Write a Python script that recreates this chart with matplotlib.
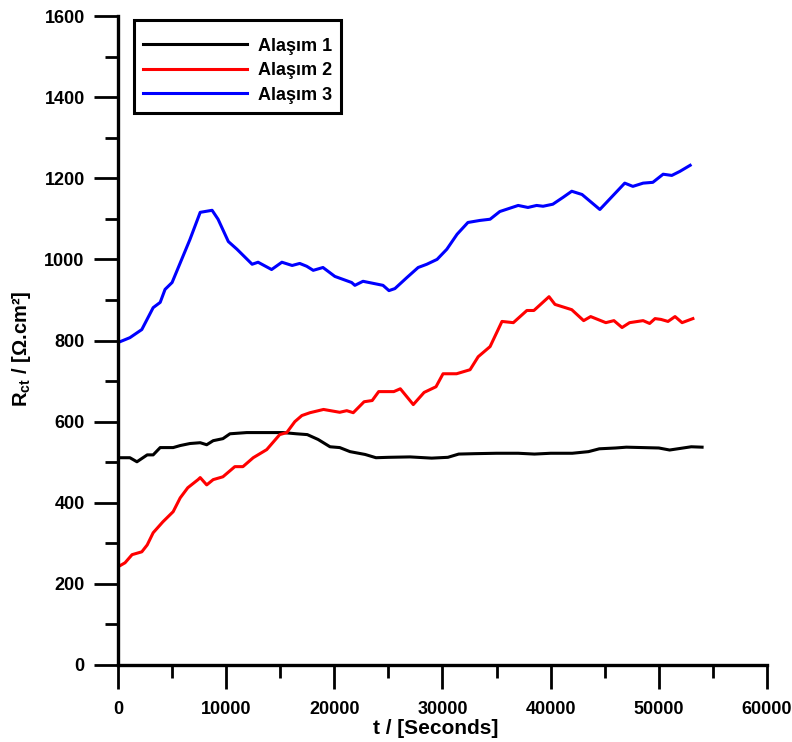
import matplotlib
matplotlib.use("Agg")
import matplotlib.pyplot as plt
from matplotlib.ticker import MultipleLocator

plt.rcParams["font.family"] = ["Liberation Sans", "DejaVu Sans"]
plt.rcParams["font.weight"] = "bold"
plt.rcParams["mathtext.default"] = "regular"

# charge-transfer resistance vs. immersion time
t_alloy1 = [0, 1100, 1750, 2700, 3250, 3900, 5100, 5750, 6650, 7600, 8200, 8800,
            9700, 10350, 11900, 13150, 14050, 15250, 16500, 17500, 18500, 19600,
            20500, 21450, 22850, 23850, 25000, 27000, 29000, 30500, 31500, 33000,
            35000, 37000, 38500, 40000, 42000, 43500, 44500, 46000, 47000, 48500,
            50000, 51000, 52000, 53000, 54000]
r_alloy1 = [511, 511, 501, 518, 518, 536, 536, 541, 546, 548, 543, 553,
            558, 570, 573, 573, 573, 573, 570, 568, 556, 538,
            536, 526, 519, 511, 512, 513, 510, 512, 520, 521,
            522, 522, 520, 522, 522, 526, 533, 535, 537, 536,
            535, 530, 534, 538, 537]

t_alloy2 = [0, 650, 1300, 2200, 2700, 3250, 4150, 5100, 5750, 6450, 7400, 7600,
            8200, 8800, 9700, 10800, 11550, 12500, 13750, 14950, 15600, 16350,
            17000, 17750, 19000, 20500, 21150, 21750, 22750, 23500, 24100, 25500,
            26100, 27300, 28300, 29400, 30050, 31300, 32550, 33300, 34400, 35500,
            36550, 37800, 38450, 39850, 40400, 41950, 43050, 43700, 45100, 45850,
            46600, 47300, 48550, 49150, 49650, 50200, 50850, 51500, 52150, 53150]
r_alloy2 = [242, 252, 272, 279, 296, 326, 353, 378, 412, 437, 457, 462,
            444, 457, 464, 489, 489, 511, 531, 568, 573, 600,
            615, 622, 630, 623, 627, 622, 649, 652, 674, 674,
            681, 642, 672, 686, 718, 718, 728, 760, 785, 847,
            844, 874, 874, 908, 889, 876, 849, 859, 844, 849,
            832, 844, 849, 842, 854, 852, 847, 859, 844, 854]

t_alloy3 = [0, 1100, 2200, 3250, 3900, 4350, 5000, 5700, 6650, 7600, 8700, 9250,
            10200, 11000, 12400, 12950, 14200, 15150, 16100, 16800, 17450, 18050,
            18950, 20050, 21600, 21900, 22650, 24500, 25050, 25600, 26700, 27750,
            28550, 29500, 30400, 31350, 32350, 33450, 34400, 35300, 37000, 37900,
            38700, 39300, 40200, 41150, 41950, 42900, 44550, 46850, 47600, 48550,
            49450, 50400, 51200, 51950, 52900]
r_alloy3 = [795, 807, 827, 881, 894, 926, 943, 988, 1049, 1116, 1121, 1099,
            1044, 1025, 988, 993, 975, 993, 985, 990, 983, 973,
            980, 958, 943, 936, 946, 936, 923, 928, 955, 980,
            988, 1000, 1025, 1062, 1091, 1096, 1099, 1118, 1133, 1128,
            1133, 1131, 1136, 1153, 1168, 1160, 1123, 1188, 1180, 1188,
            1190, 1210, 1207, 1217, 1232]

labels = ["Alaşım 1", "Alaşım 2", "Alaşım 3"]
colors = ["black", "#ff0000", "#0000ff"]

fig = plt.figure(figsize=(7.92, 7.42), dpi=100)
ax = fig.add_axes([0.149, 0.1038, 0.8194, 0.8746])

series = [(t_alloy1, r_alloy1), (t_alloy2, r_alloy2), (t_alloy3, r_alloy3)]
for (t, r), lab, c in zip(series, labels, colors):
    ax.plot(t, r, color=c, lw=2.2, label=lab)

ax.set_xlim(0, 60000)
ax.set_ylim(0, 1600)
ax.xaxis.set_major_locator(MultipleLocator(10000))
ax.xaxis.set_minor_locator(MultipleLocator(5000))
ax.yaxis.set_major_locator(MultipleLocator(200))
ax.yaxis.set_minor_locator(MultipleLocator(100))

for side in ["top", "right"]:
    ax.spines[side].set_visible(False)
for side in ["left", "bottom"]:
    ax.spines[side].set_linewidth(2.4)

ax.tick_params(which="major", direction="out", length=17, width=2, labelsize=13)
ax.tick_params(which="minor", direction="out", length=9.5, width=2)
ax.tick_params(axis="x", which="major", pad=9)
ax.tick_params(axis="y", which="major", pad=7)
for lbl in ax.get_xticklabels() + ax.get_yticklabels():
    lbl.set_fontweight("bold")

ax.set_xlabel("t / [Seconds]", fontsize=15, fontweight="bold")
ax.set_ylabel(r"R$_{ct}$ / [Ω.cm²]", fontsize=14.5, fontweight="bold")
ax.xaxis.set_label_coords(0.489, -0.084)
ax.yaxis.set_label_coords(-0.131, 0.487)

# a tiny blank title leaves a little extra room above the first entry
leg = ax.legend(loc="upper left", bbox_to_anchor=(0.024, 0.994), borderaxespad=0,
                fontsize=13, handlelength=5.8, handletextpad=0.6, labelspacing=0.42,
                borderpad=0.5, fancybox=False, framealpha=1, edgecolor="black",
                title=" ", title_fontsize=1)
leg.get_frame().set_linewidth(2.2)
for txt in leg.get_texts():
    txt.set_fontweight("bold")

fig.savefig("out.png", dpi=100)
